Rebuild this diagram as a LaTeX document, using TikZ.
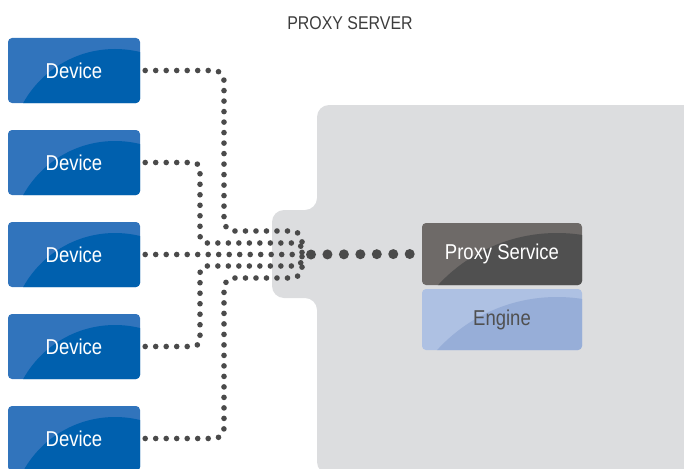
\documentclass[tikz,border=0pt]{standalone}
\usepackage{fontspec}
\setmainfont{Liberation Sans}[FakeStretch=0.86]

\definecolor{devlight}{HTML}{3174BC}
\definecolor{devdark}{HTML}{0060AE}
\definecolor{pslight}{HTML}{6E6A68}
\definecolor{psdark}{HTML}{505050}
\definecolor{englight}{HTML}{AEC1E3}
\definecolor{engdark}{HTML}{97AED8}
\definecolor{panel}{HTML}{DCDDDF}
\definecolor{dotgray}{HTML}{4A4A4A}
\definecolor{labelgray}{HTML}{3C3C3C}

\tikzset{
  box/.style={rectangle, rounded corners=4pt, inner sep=0pt,
    font=\fontsize{21.5}{25}\selectfont},
  devicebox/.style={box, minimum width=132pt, minimum height=65pt,
    fill=devlight, text=white,
    path picture={\fill[devdark]
      ([shift={(107pt,-116pt)}]path picture bounding box.north west) circle (105pt);}},
  servicebox/.style={box, minimum width=160pt, minimum height=62pt,
    fill=pslight, text=white,
    path picture={\fill[psdark]
      ([shift={(135pt,-172pt)}]path picture bounding box.north west) circle (162pt);}},
  enginebox/.style={box, minimum width=160pt, minimum height=61pt,
    fill=englight, text=psdark,
    path picture={\fill[engdark]
      ([shift={(135pt,-170pt)}]path picture bounding box.north west) circle (162pt);}},
  smalldots/.style={draw=dotgray, line width=5.6pt, line cap=round,
    dash pattern=on 0pt off 10.5pt},
  bigdots/.style={draw=dotgray, line width=10pt, line cap=round,
    dash pattern=on 0pt off 16.45pt},
}

\begin{document}
\begin{tikzpicture}[x=1pt, y=-1pt]
\useasboundingbox (0,0) rectangle (684,468);

% server panel with the tab on its left side
\fill[panel, rounded corners=12pt]
  (700,105) -- (317,105) -- (317,210) -- (272,210) -- (272,298)
  -- (317,298) -- (317,474) -- (700,474) -- cycle;

\node[text=labelgray, font=\fontsize{18.5}{22}\selectfont] (title) at (350,23.5) {PROXY SERVER};

% devices
\node[devicebox] (d1) at (74,70.5)  {Device};
\node[devicebox] (d2) at (74,162.5) {Device};
\node[devicebox] (d3) at (74,254.5) {Device};
\node[devicebox] (d4) at (74,346.5) {Device};
\node[devicebox] (d5) at (74,438.5) {Device};

% server components
\node[servicebox] (ps)  at (502,254)   {Proxy Service};
\node[enginebox]  (eng) at (502,319.5) {Engine};

% connections
\coordinate (hub) at (302,254.5);
\draw[smalldots, rounded corners=10pt]
  ([xshift=5pt]d1.east) -- (224,70.5) -- (224,231) -- (302,231) -- (hub);
\draw[smalldots, rounded corners=7pt]
  ([xshift=5pt]d2.east) -- (200,162.5) -- (200,243) -- (302,243) -- (hub);
\draw[smalldots]
  ([xshift=5pt]d3.east) -- (hub);
\draw[smalldots, rounded corners=7pt]
  ([xshift=5pt]d4.east) -- (200,346.5) -- (200,266) -- (302,266) -- (hub);
\draw[smalldots, rounded corners=10pt]
  ([xshift=5pt]d5.east) -- (224,438.5) -- (224,278) -- (302,278) -- (hub);
\draw[bigdots] ([xshift=9pt]hub) -- ([xshift=-12pt]ps.west);
\end{tikzpicture}
\end{document}
